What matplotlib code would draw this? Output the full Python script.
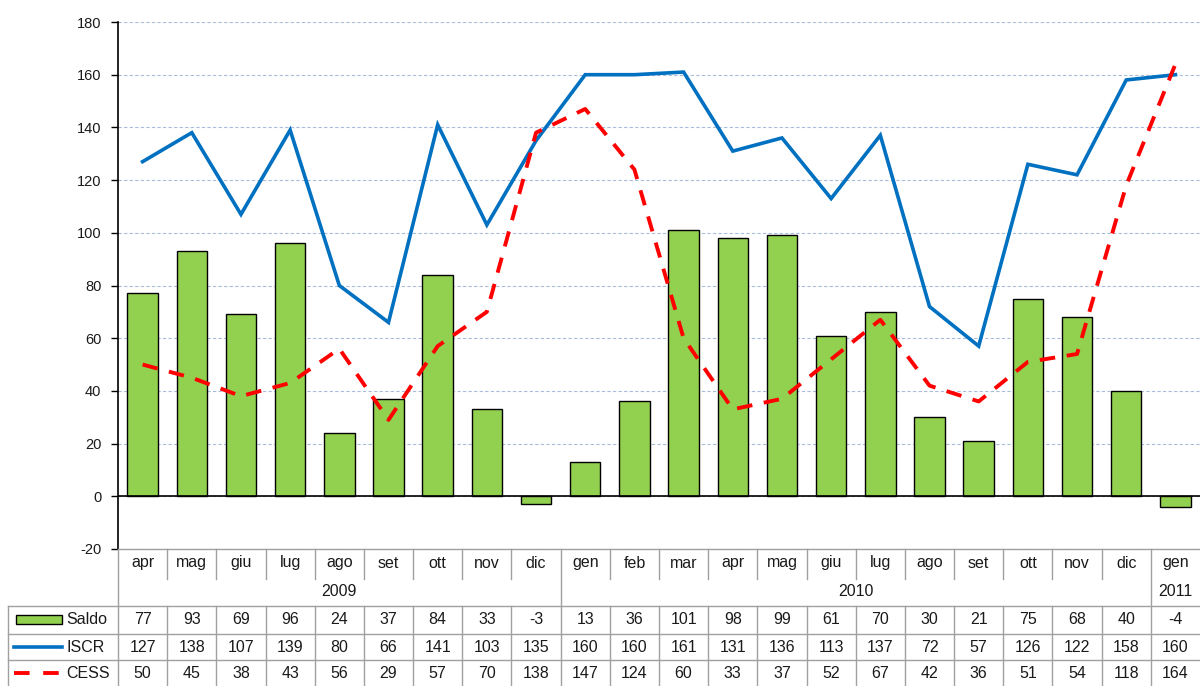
import matplotlib
matplotlib.use("Agg")
import matplotlib.pyplot as plt
from matplotlib.transforms import blended_transform_factory
from matplotlib.patches import Rectangle
from matplotlib.lines import Line2D

months = ["apr", "mag", "giu", "lug", "ago", "set", "ott", "nov", "dic",
          "gen", "feb", "mar", "apr", "mag", "giu", "lug", "ago", "set", "ott", "nov", "dic",
          "gen"]
years = ["2009", "2010", "2011"]
year_counts = [9, 12, 1]
saldo = [77, 93, 69, 96, 24, 37, 84, 33, -3, 13, 36, 101, 98, 99, 61, 70, 30, 21, 75, 68, 40, -4]
iscr = [127, 138, 107, 139, 80, 66, 141, 103, 135, 160, 160, 161, 131, 136, 113, 137, 72, 57, 126, 122, 158, 160]
cess = [50, 45, 38, 43, 56, 29, 57, 70, 138, 147, 124, 60, 33, 37, 52, 67, 42, 36, 51, 54, 118, 164]
yticks = list(range(-20, 181, 20))

W, H = 1200, 686
plt.rcParams['font.family'] = ['Liberation Sans', 'DejaVu Sans']
plt.rcParams['axes.unicode_minus'] = False
fig = plt.figure(figsize=(W / 100, H / 100), dpi=100)
ax = fig.add_axes([118 / W, 1 - 549 / H, (1200 - 118) / W, (549 - 22) / H])

n = len(months)
x = list(range(n))
green = "#92D050"
blue = "#0070C0"
red = "#FF0000"
gridc = "#A9BCDC"
tablec = "#A0A0A0"
txtc = "#1a1a1a"

ax.set_xlim(-0.5, n - 0.5)
ax.set_ylim(-20, 180)
ax.set_yticks(yticks)
ax.tick_params(axis='y', labelsize=10.5, length=5, width=1, direction='out', pad=7,
               colors='black', labelcolor=txtc)
ax.set_xticks([])
for s in ["top", "right", "bottom"]:
    ax.spines[s].set_visible(False)
ax.spines["left"].set_linewidth(1.2)
ax.grid(axis='y', color=gridc, linestyle=(0, (3, 2)), linewidth=0.8)
ax.set_axisbelow(True)

ax.bar(x, saldo, width=0.62, color=green, edgecolor="black", linewidth=1.0, zorder=2)
ax.axhline(0, color="black", linewidth=1.2, zorder=3)
ax.plot(x, iscr, color=blue, linewidth=2.6, zorder=4, solid_joinstyle='miter')
ax.plot(x, cess, color=red, linewidth=2.8, linestyle=(0, (4, 3)), zorder=5)

# Data table
tr = blended_transform_factory(ax.transData, fig.transFigure)
def fy(py):
    return 1 - py / H

fs = 11.5
fig.add_artist(Line2D([118 / W, 1], [fy(549), fy(549)], transform=fig.transFigure, color=tablec, lw=1))
fig.add_artist(Line2D([118 / W, 118 / W], [fy(549), fy(686)], transform=fig.transFigure, color=tablec, lw=1))
for py in [606, 634, 660]:
    fig.add_artist(Line2D([8 / W, 1], [fy(py), fy(py)], transform=fig.transFigure, color=tablec, lw=1))
fig.add_artist(Line2D([8 / W, 8 / W], [fy(606), fy(686)], transform=fig.transFigure, color=tablec, lw=1))

bounds = []
acc = 0
for c in year_counts:
    acc += c
    bounds.append(acc)
for i in range(1, n):
    if i in bounds:
        top, bot = 549, 686
    else:
        top, bot = 549, 579
        fig.add_artist(Line2D([i - 0.5, i - 0.5], [fy(606), fy(686)], transform=tr, color=tablec, lw=1))
    fig.add_artist(Line2D([i - 0.5, i - 0.5], [fy(top), fy(bot)], transform=tr, color=tablec, lw=1))

for i, m in enumerate(months):
    fig.text(i, fy(563), m, transform=tr, ha='center', va='center', fontsize=fs, color=txtc)
start = 0
for yname, c in zip(years, year_counts):
    fig.text(start + (c - 1) / 2, fy(592), yname, transform=tr, ha='center', va='center',
             fontsize=fs, color=txtc)
    start += c

for row, py in zip([saldo, iscr, cess], [620, 647, 673]):
    for i, v in enumerate(row):
        fig.text(i, fy(py), str(v), transform=tr, ha='center', va='center', fontsize=fs, color=txtc)

fig.add_artist(Rectangle((16 / W, fy(624)), 46 / W, 9 / H, transform=fig.transFigure,
                         facecolor=green, edgecolor="black", lw=1))
fig.add_artist(Line2D([14 / W, 62 / W], [fy(647), fy(647)], transform=fig.transFigure, color=blue, lw=2.6))
fig.add_artist(Line2D([14 / W, 60 / W], [fy(673), fy(673)], transform=fig.transFigure, color=red, lw=2.8,
                      linestyle=(0, (4, 3.5))))
for lab, py in zip(["Saldo", "ISCR", "CESS"], [620, 647, 673]):
    fig.text(66 / W, fy(py), lab, ha='left', va='center', fontsize=fs, color=txtc)

fig.savefig("out.png", dpi=100)
